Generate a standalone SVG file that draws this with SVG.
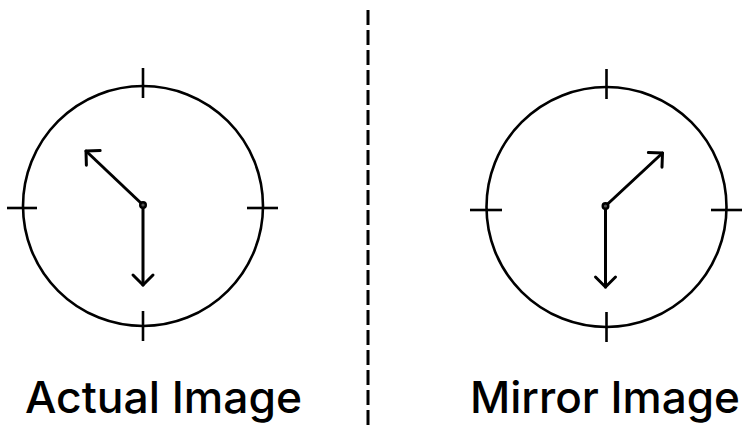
<svg xmlns="http://www.w3.org/2000/svg" width="744" height="425" viewBox="0 0 744 425">
  <style>
    .face { fill: none; stroke: #000; stroke-width: 2.6; }
    .tick { stroke: #000; stroke-width: 2.6; stroke-linecap: butt; }
    .hand { stroke: #000; stroke-width: 3; stroke-linecap: round; marker-end: url(#arr); }
    .pivot { fill: #555; stroke: #000; stroke-width: 2.4; }
    .label { font-family: Inter, "Liberation Sans", sans-serif; font-weight: 500; font-size: 44px; fill: #000; }
    .mirror { stroke: #000; stroke-width: 3; stroke-dasharray: 15 5; }
  </style>
  <defs>
    <marker id="arr" viewBox="-15 -15 30 30" markerWidth="30" markerHeight="30" refX="0" refY="0" orient="auto" markerUnits="userSpaceOnUse">
      <path d="M-10,-10 L0,0 L-10,10" fill="none" stroke="#000" stroke-width="3" stroke-linecap="round" stroke-linejoin="round"/>
    </marker>
  </defs>
  <rect width="744" height="425" fill="#fff"/>

  <g id="actual-clock">
    <circle class="face" cx="143" cy="206" r="120"/>
    <line class="tick" x1="143" y1="68" x2="143" y2="98"/>
    <line class="tick" x1="143" y1="311" x2="143" y2="341"/>
    <line class="tick" x1="7" y1="208" x2="37" y2="208"/>
    <line class="tick" x1="247" y1="208" x2="278" y2="208"/>
    <line class="hand" x1="143" y1="205" x2="86" y2="151"/>
    <line class="hand" x1="143" y1="208" x2="143" y2="285"/>
    <circle class="pivot" cx="143" cy="205" r="2.8"/>
  </g>

  <g id="mirror-clock">
    <circle class="face" cx="606.5" cy="207" r="120"/>
    <line class="tick" x1="606.5" y1="69" x2="606.5" y2="99"/>
    <line class="tick" x1="606.5" y1="312" x2="606.5" y2="342"/>
    <line class="tick" x1="470" y1="210" x2="502" y2="210"/>
    <line class="tick" x1="711" y1="210" x2="742" y2="210"/>
    <line class="hand" x1="605.5" y1="206" x2="662.5" y2="153"/>
    <line class="hand" x1="605.5" y1="209" x2="605.5" y2="287"/>
    <circle class="pivot" cx="605.5" cy="206" r="2.8"/>
  </g>

  <g id="connectors">
    <line id="mirror-line" class="mirror" x1="368" y1="10" x2="368" y2="425"/>
  </g>

  <g id="label-actual">
    <text class="label" x="25" y="413" textLength="277" lengthAdjust="spacingAndGlyphs">Actual Image</text>
  </g>
  <g id="label-mirror">
    <text class="label" x="470" y="413" textLength="270" lengthAdjust="spacingAndGlyphs">Mirror Image</text>
  </g>
</svg>
